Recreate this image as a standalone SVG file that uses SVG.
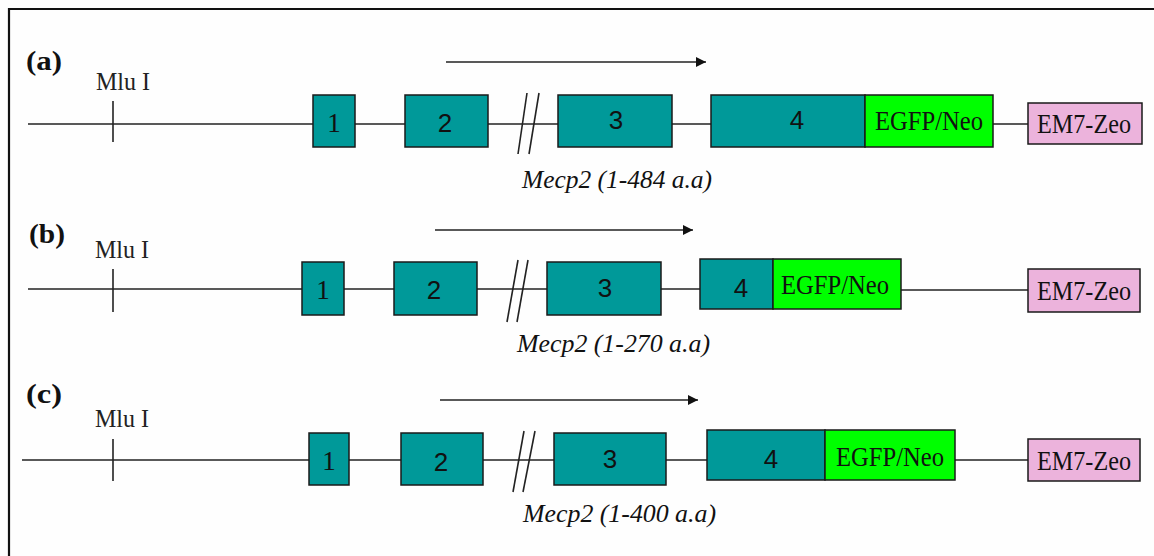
<svg xmlns="http://www.w3.org/2000/svg" width="1154" height="556" viewBox="0 0 1154 556">
<style>
.exon{fill:#009999;stroke:#1a1a1a;stroke-width:1.5}
.egfp{fill:#00ff00;stroke:#1a1a1a;stroke-width:1.5}
.zeo{fill:#ecb3dc;stroke:#1a1a1a;stroke-width:1.5}
.ln{stroke:#222;stroke-width:1.6;fill:none}
.num{font-family:"Liberation Sans",Arial,sans-serif;font-size:26px;fill:#111;text-anchor:middle}
.num1{font-family:"Liberation Serif","Times New Roman",serif;font-size:27px;fill:#111;text-anchor:middle}
.lbl{font-family:"Liberation Serif","Times New Roman",serif;font-size:27px;fill:#111;text-anchor:middle}
.mlu{font-family:"Liberation Serif","Times New Roman",serif;font-size:25px;fill:#222}
.tag{font-family:"Liberation Serif","Times New Roman",serif;font-size:27px;font-weight:bold;fill:#111}
.it{font-family:"Liberation Serif","Times New Roman",serif;font-size:26px;font-style:italic;fill:#111}
</style>
<defs>
<marker id="ah" viewBox="0 0 10 10" refX="10" refY="5" markerWidth="10" markerHeight="10" markerUnits="userSpaceOnUse" orient="auto">
<path d="M0,0 L10,5 L0,10 z" fill="#111"/>
</marker>
</defs>
<rect x="0" y="0" width="1154" height="556" fill="#fefefe"/>
<path d="M9,560 L9,9 L1160,9" fill="none" stroke="#111" stroke-width="2.2"/>

<g id="connectors">
<!-- row a -->
<line class="ln" x1="28" y1="124" x2="313" y2="124"/>
<line class="ln" x1="355" y1="124" x2="405" y2="124"/>
<line class="ln" x1="488" y1="124" x2="558" y2="124"/>
<line class="ln" x1="672" y1="124" x2="711" y2="124"/>
<line class="ln" x1="993" y1="124" x2="1028" y2="124"/>
<line class="ln" x1="113" y1="101" x2="113" y2="142"/>
<line class="ln" x1="527" y1="93" x2="518" y2="154"/>
<line class="ln" x1="539" y1="93" x2="529" y2="154"/>
<line class="ln" x1="446" y1="62" x2="706" y2="62" marker-end="url(#ah)"/>
<!-- row b -->
<line class="ln" x1="28" y1="289" x2="302" y2="289"/>
<line class="ln" x1="344" y1="289" x2="394" y2="289"/>
<line class="ln" x1="477" y1="289" x2="547" y2="289"/>
<line class="ln" x1="661" y1="289" x2="700" y2="289"/>
<line class="ln" x1="901" y1="290" x2="1028" y2="290"/>
<line class="ln" x1="113" y1="269" x2="113" y2="312"/>
<line class="ln" x1="518" y1="260" x2="507" y2="322"/>
<line class="ln" x1="528" y1="260" x2="517" y2="322"/>
<line class="ln" x1="435" y1="230" x2="693" y2="230" marker-end="url(#ah)"/>
<!-- row c -->
<line class="ln" x1="22" y1="460" x2="309" y2="460"/>
<line class="ln" x1="349" y1="460" x2="401" y2="460"/>
<line class="ln" x1="483" y1="460" x2="554" y2="460"/>
<line class="ln" x1="666" y1="460" x2="707" y2="460"/>
<line class="ln" x1="955" y1="460" x2="1028" y2="460"/>
<line class="ln" x1="113" y1="439" x2="113" y2="481"/>
<line class="ln" x1="524" y1="431" x2="513" y2="492"/>
<line class="ln" x1="535" y1="431" x2="523" y2="492"/>
<line class="ln" x1="440" y1="400" x2="698" y2="400" marker-end="url(#ah)"/>
</g>

<!-- Row (a) -->
<g id="row-a">
<text class="tag" x="26" y="70" textLength="36" lengthAdjust="spacingAndGlyphs">(a)</text>
<text class="mlu" x="96" y="90" textLength="54" lengthAdjust="spacingAndGlyphs">Mlu I</text>
<g id="a-exon1"><rect class="exon" x="313" y="95" width="42" height="52"/><text class="num1" x="334" y="132">1</text></g>
<g id="a-exon2"><rect class="exon" x="405" y="95" width="83" height="52"/><text class="num" x="445" y="132">2</text></g>
<g id="a-exon3"><rect class="exon" x="558" y="95" width="114" height="52"/><text class="num" x="616" y="129">3</text></g>
<g id="a-exon4"><rect class="exon" x="711" y="95" width="154" height="52"/><text class="num" x="797" y="129">4</text></g>
<g id="a-egfp"><rect class="egfp" x="865" y="95" width="128" height="52"/><text class="lbl" x="929" y="130" textLength="108" lengthAdjust="spacingAndGlyphs">EGFP/Neo</text></g>
<g id="a-zeo"><rect class="zeo" x="1028" y="103" width="114" height="41"/><text class="lbl" x="1084" y="133" textLength="94" lengthAdjust="spacingAndGlyphs">EM7-Zeo</text></g>
<text class="it" x="522" y="188" textLength="190" lengthAdjust="spacingAndGlyphs">Mecp2 (1-484 a.a)</text>
</g>

<!-- Row (b) -->
<g id="row-b">
<text class="tag" x="29" y="243" textLength="36" lengthAdjust="spacingAndGlyphs">(b)</text>
<text class="mlu" x="95" y="258" textLength="54" lengthAdjust="spacingAndGlyphs">Mlu I</text>
<g id="b-exon1"><rect class="exon" x="302" y="262" width="42" height="53"/><text class="num1" x="323" y="299">1</text></g>
<g id="b-exon2"><rect class="exon" x="394" y="262" width="83" height="53"/><text class="num" x="434" y="299">2</text></g>
<g id="b-exon3"><rect class="exon" x="547" y="262" width="114" height="53"/><text class="num" x="605" y="297">3</text></g>
<g id="b-exon4"><rect class="exon" x="700" y="259" width="73" height="50"/><text class="num" x="741" y="297">4</text></g>
<g id="b-egfp"><rect class="egfp" x="773" y="259" width="128" height="50"/><text class="lbl" x="835" y="294" textLength="108" lengthAdjust="spacingAndGlyphs">EGFP/Neo</text></g>
<g id="b-zeo"><rect class="zeo" x="1028" y="269" width="112" height="43"/><text class="lbl" x="1084" y="300" textLength="94" lengthAdjust="spacingAndGlyphs">EM7-Zeo</text></g>
<text class="it" x="517" y="352" textLength="193" lengthAdjust="spacingAndGlyphs">Mecp2 (1-270 a.a)</text>
</g>

<!-- Row (c) -->
<g id="row-c">
<text class="tag" x="26" y="403" textLength="36" lengthAdjust="spacingAndGlyphs">(c)</text>
<text class="mlu" x="95" y="427" textLength="54" lengthAdjust="spacingAndGlyphs">Mlu I</text>
<g id="c-exon1"><rect class="exon" x="309" y="433" width="40" height="52"/><text class="num1" x="329" y="470">1</text></g>
<g id="c-exon2"><rect class="exon" x="401" y="433" width="82" height="52"/><text class="num" x="441" y="471">2</text></g>
<g id="c-exon3"><rect class="exon" x="554" y="433" width="112" height="52"/><text class="num" x="610" y="468">3</text></g>
<g id="c-exon4"><rect class="exon" x="707" y="430" width="118" height="50"/><text class="num" x="771" y="468">4</text></g>
<g id="c-egfp"><rect class="egfp" x="825" y="430" width="130" height="50"/><text class="lbl" x="890" y="466" textLength="108" lengthAdjust="spacingAndGlyphs">EGFP/Neo</text></g>
<g id="c-zeo"><rect class="zeo" x="1028" y="439" width="112" height="42"/><text class="lbl" x="1084" y="470" textLength="94" lengthAdjust="spacingAndGlyphs">EM7-Zeo</text></g>
<text class="it" x="523" y="522" textLength="193" lengthAdjust="spacingAndGlyphs">Mecp2 (1-400 a.a)</text>
</g>
</svg>
